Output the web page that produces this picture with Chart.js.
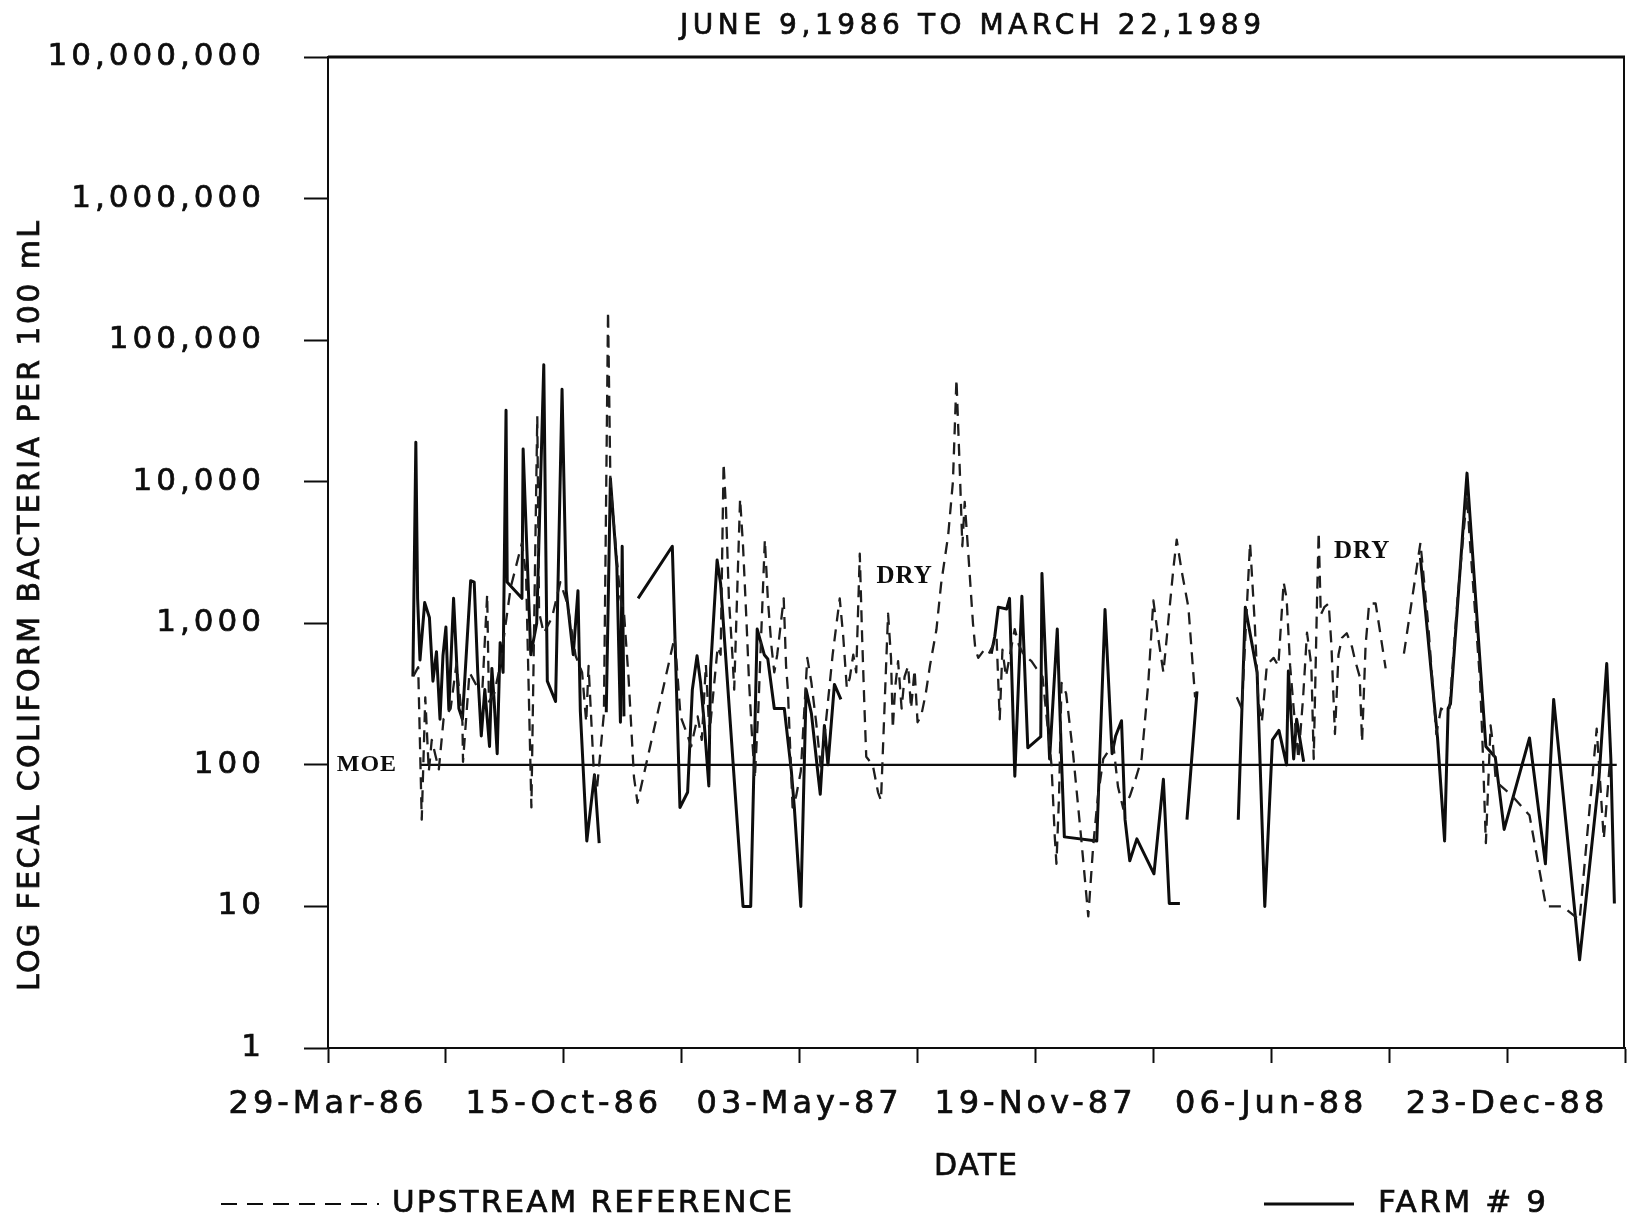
<!DOCTYPE html>
<html>
<head>
<meta charset="utf-8">
<script src="https://cdn.jsdelivr.net/npm/chart.js@4.4.1/dist/chart.umd.min.js"></script>
<style>
  html, body { margin: 0; padding: 0; background: #fff; }
  canvas { display: block; }
</style>
</head>
<body>
<canvas id="c" width="1627" height="1223"></canvas>
<script>
// days counted from 29-Mar-86 (first axis tick), fecal coliform counts per 100 mL
// null = no sample / break in the plotted line
const upstream = [
  [72.5,425],[76.5,490],[79.5,41],[82.5,300],[85.5,90],[88,150],[91,118],[94,93],[98,210],[104,250],
  [109,520],[114,200],[114.5,105],[120,450],[127,350],[131,350],[135,1600],[136.5,280],[141,320],[146,500],
  [150,900],[155,1800],[164.5,3700],[168,2200],[172.5,50],[177.5,29000],[179,1200],[183,850],[190,1100],[197,1950],
  [203,1380],[210,590],[215.5,450],[219,200],[221,500],[225.5,88],[228,66],[234,230],[237.5,160000],[239.5,10000],
  [245,2800],[248,1500],[251,1200],[255,400],[259.5,82],[262.5,54],[294,800],[299,220],[304,170],[308,135],
  [313.5,220],[317,150],[320.5,510],[323.5,165],[330.5,680],[333,600],[335.5,13500],[337.5,6600],[340,1500],[343,590],
  [344.5,340],[349.5,7600],[352,3500],[355,1000],[357,400],[359.5,165],[362,80],[365,250],[370.5,3900],[373,1500],
  [376,700],[378.5,450],[381,600],[386.5,1500],[388.5,500],[390,340],[394,50],[397,60],[401,90],[406.5,570],
  [410,380],[414,200],[418,95],[422,190],[428,600],[434,1500],[437,800],[440,350],[442.5,410],[445.5,600],
  [448,450],[451,3100],[453,800],[455,250],[456.5,114],[462,100],[466.5,64],[469,56],[475,1170],[477.5,570],
  [479,180],[481,350],[483.5,540],[486.5,250],[489,420],[492,500],[494.5,250],[497.5,470],[500,200],[503,220],
  [507,320],[510.5,500],[516,900],[520,1900],[526,4200],[530,10000],[533,53000],[536,11000],[538,3500],[540,7200],
  [543,3150],[547,1000],[549,660],[551.5,570],[556,640],[560,600],[564,700],[567,800],[569.7,210],[572,650],
  [575,420],[582.4,910],[586,700],[590,600],[596.6,540],[600.8,480],[606,420],[613.6,100],[616.4,31],[617.8,20],
  [620,60],[622.1,380],[626,320],[632,118],[639,29],[644.8,8.5],[649,27],[653,60],[657.5,110],[661.8,125],
  [666,140],[670,70],[674.5,49],[680,60],[685,80],[690,110],[695.7,380],[700,1450],[704,800],[708.5,450],
  [712,900],[717,2450],[719.8,3900],[724,2340],[729.7,1300],[735.4,300],[740,null],
  [770.8,300],[775,250],[782,3700],[786,1000],[789,280],[792,200],[796.3,510],[802,570],[806,500],[810.5,1950],
  [813,1500],[816,500],[819,250],[823,110],[827,300],[830.3,860],[834,500],[836,110],[838.8,1450],[840.2,4400],
  [842,1150],[845,1300],[848.7,1380],[851,700],[854,165],[857,600],[860,790],[864,850],[868.5,680],[871,550],
  [875,420],[877,145],[880,700],[883,1380],[888.5,1380],[892,900],[897,480],[905,null],
  [912.5,610],[926.5,3700],[933,1000],[940,165],[944,250],[947,240],[951,245],[958,1500],[966,8000],[968,4300],
  [972,1500],[977,400],[979,155],[982,28],[986,190],[988,140],[990.5,76],[1003,62],[1019,44],[1033,10],
  [1047,10],[1061.5,8],[1076,180],[1082,30],[1087,100]
];

const farm9 = [
  [72,420],[74.5,19000],[76,1500],[78,550],[82,1400],[86,1100],[89,390],[92,630],[95,210],[97.5,590],
  [100,940],[102.5,245],[106.5,1500],[111,250],[114,210],[121,2000],[124,1950],[127,450],[130,160],[133,340],
  [137,135],[139,480],[141,275],[143.5,120],[146,730],[148.5,450],[151,32000],[152,1950],[164.5,1500],[165.5,17000],
  [172,600],[177,1000],[183,67000],[186,390],[193,280],[198.5,45000],[202,1700],[208,600],[212,1700],[214,240],
  [219.5,29],[226,85],[230,28],[231,null],
  [236,235],[239.5,10500],[245,2500],[248,200],[249.5,3500],[251,220],[255,null],
  [263,1500],[292,3500],[298.5,50],[305,64],[309,340],[313,590],[316,380],[319,200],[323,71],[324.5,480],
  [330,2800],[333,1900],[352,10],[358.5,10],[364,910],[370,600],[373,560],[378.5,250],[387,250],[393,90],
  [395.5,50],[401,10],[405.5,340],[410,230],[415,95],[417.5,62],[421,190],[424,100],[429.5,370],[435,290],[450,null],
  [562.5,610],[565.5,810],[568.5,1300],[575.5,1260],[578,1500],[582.5,83],[588.5,1550],[593.5,132],[604.5,158],[605.5,2250],
  [612,110],[618.5,910],[622,115],[624.5,31],[652,29],[659,1250],[665,120],[668,160],[673,205],[676,41],
  [680,21],[686,30],[700.5,17],[708.5,79],[713.5,10.5],[722.5,10.5],[725,null],
  [728.5,41],[737,330],[750,null],
  [772,41],[778,1300],[788,450],[794.5,10],[801,150],[806.5,175],[813,100],[814.5,460],[819,110],[821.5,210],
  [827.5,105],[850,null],
  [926.5,2900],[941,155],[947,29],[950,250],[952,270],[966,11500],[982,135],[990,113],[997.5,35],[1019,155],
  [1032.5,20],[1039.5,290],[1061.5,4.2],[1078,82],[1084.5,520],[1088,110],[1091,10.5]
];

const moeLevel = [[78,100],[1093,100]];        // MOE objective line
const yTickValues = [1, 10, 100, 1000, 10000, 100000, 1000000, 10000000];
const dryNotes = [[489,2150],[877,3230]];       // where the two "DRY" notes sit

const FONT = '"DejaVu Sans", "Liberation Sans", sans-serif';
const SERIF = '"Liberation Serif", "DejaVu Serif", serif';
const INK = '#0d0d0d';
const MONTHS = ['Jan','Feb','Mar','Apr','May','Jun','Jul','Aug','Sep','Oct','Nov','Dec'];

function fmtDate(day) {
  const d = new Date(Date.UTC(1986, 2, 29) + day * 86400000);
  return String(d.getUTCDate()).padStart(2, '0') + '-' + MONTHS[d.getUTCMonth()] + '-' + String(d.getUTCFullYear()).slice(2);
}

const toPoints = rows => rows.map(([d, v]) => ({ x: d, y: v }));

// draw a string stretched by letter spacing so it spans `width` px, starting at left
function spaced(ctx, str, left, y, width) {
  ctx.letterSpacing = '0px';
  const w = ctx.measureText(str).width;
  const ls = (width - w) / (str.length - 1);
  ctx.letterSpacing = ls + 'px';
  ctx.textAlign = 'left';
  ctx.fillText(str, left, y);
  ctx.strokeText(str, left, y);
}

const paperPlugin = {
  id: 'paper',
  beforeUpdate(chart) { chart.ctx.letterSpacing = '4px'; },
  beforeDraw(chart) { chart.ctx.letterSpacing = '4px'; },
  afterDraw(chart) {
    const { ctx, chartArea: a, scales: { x, y } } = chart;
    ctx.save();
    ctx.strokeStyle = INK;
    // top and right frame
    ctx.lineWidth = 3;
    ctx.beginPath(); ctx.moveTo(a.left, a.top); ctx.lineTo(a.right, a.top); ctx.stroke();
    ctx.lineWidth = 2;
    ctx.beginPath(); ctx.moveTo(a.right - 1, a.top); ctx.lineTo(a.right - 1, a.bottom); ctx.stroke();

    ctx.fillStyle = INK;
    ctx.textBaseline = 'middle';
    ctx.lineWidth = 0.7;

    ctx.font = '28px ' + FONT;
    spaced(ctx, 'JUNE 9,1986 TO MARCH 22,1989', 680, 27, 581);

    ctx.font = '30px ' + FONT;
    spaced(ctx, 'DATE', 934, 1167, 83);

    ctx.save();
    ctx.translate(31, 606);
    ctx.rotate(-Math.PI / 2);
    spaced(ctx, 'LOG FECAL COLIFORM BACTERIA PER 100 mL', -385, 0, 770);
    ctx.restore();

    // legend
    ctx.font = '31px ' + FONT;
    spaced(ctx, 'UPSTREAM REFERENCE', 392, 1204, 400);
    spaced(ctx, 'FARM # 9', 1378, 1204, 168);
    ctx.lineWidth = 2.2;
    ctx.setLineDash([16, 10]);
    ctx.beginPath(); ctx.moveTo(221, 1204); ctx.lineTo(379, 1204); ctx.stroke();
    ctx.setLineDash([]);
    ctx.lineWidth = 3;
    ctx.beginPath(); ctx.moveTo(1264, 1204); ctx.lineTo(1354, 1204); ctx.stroke();

    // notes on the plot
    ctx.letterSpacing = '1px';
    ctx.textAlign = 'center';
    ctx.font = 'bold 24px ' + SERIF;
    ctx.fillText('MOE', x.getPixelForValue(33), y.getPixelForValue(100));
    ctx.font = 'bold 25px ' + SERIF;
    dryNotes.forEach(([d, v]) => ctx.fillText('DRY', x.getPixelForValue(d), y.getPixelForValue(v)));
    ctx.restore();
  }
};

new Chart(document.getElementById('c'), {
  type: 'line',
  data: {
    datasets: [
      {
        label: 'UPSTREAM REFERENCE',
        data: toPoints(upstream),
        borderColor: '#1e1e1e',
        borderWidth: 2.3,
        borderDash: [12, 8],
        borderJoinStyle: 'round'
      },
      {
        label: 'FARM # 9',
        data: toPoints(farm9),
        borderColor: INK,
        borderWidth: 3,
        borderJoinStyle: 'round'
      },
      {
        label: 'MOE',
        data: toPoints(moeLevel),
        borderColor: INK,
        borderWidth: 2.2
      }
    ]
  },
  options: {
    responsive: false,
    animation: false,
    devicePixelRatio: 1,
    layout: { autoPadding: false, padding: { top: 57, right: 2, left: 0, bottom: 0 } },
    elements: { point: { radius: 0 }, line: { tension: 0 } },
    plugins: {
      legend: { display: false },
      title: { display: false },
      tooltip: { enabled: false }
    },
    scales: {
      x: {
        type: 'linear',
        min: 0,
        max: 1100,
        afterFit(scale) { scale.height = 175; scale.paddingLeft = 0; scale.paddingRight = 0; },
        ticks: {
          stepSize: 100,
          autoSkip: false,
          maxRotation: 0,
          minRotation: 0,
          padding: 22,
          color: INK,
          textStrokeColor: INK,
          textStrokeWidth: 0.7,
          font: { family: FONT, size: 32 },
          callback: v => (v % 200 === 0 ? fmtDate(v) : '')
        },
        grid: { drawOnChartArea: false, tickLength: 15, tickWidth: 2, color: INK },
        border: { display: true, color: INK, width: 2 }
      },
      y: {
        type: 'logarithmic',
        min: 1,
        max: 10000000,
        afterFit(scale) { scale.width = 328; scale.paddingTop = 0; scale.paddingBottom = 0; },
        afterBuildTicks(scale) { scale.ticks = yTickValues.map(v => ({ value: v })); },
        ticks: {
          padding: 39,
          color: INK,
          textStrokeColor: INK,
          textStrokeWidth: 0.7,
          font: { family: FONT, size: 31 },
          callback: v => Number(v).toLocaleString('en-US')
        },
        grid: { drawOnChartArea: false, tickLength: 24, tickWidth: 2, color: INK },
        border: { display: true, color: INK, width: 2 }
      }
    }
  },
  plugins: [paperPlugin]
});
</script>
</body>
</html>
